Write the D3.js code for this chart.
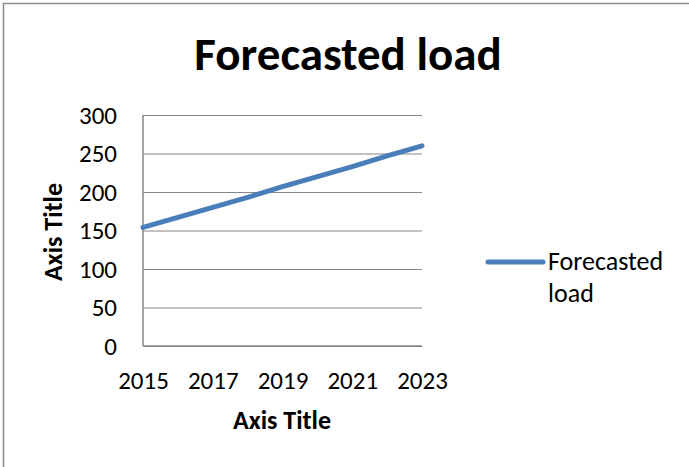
<!DOCTYPE html>
<html>
<head>
<meta charset="utf-8">
<script src="https://cdn.jsdelivr.net/npm/d3@7"></script>
<style>
  body { margin: 0; background: #fff; }
  text { font-family: Calibri, Carlito, "Open Sans", sans-serif; fill: #000; }
</style>
</head>
<body>
<div id="chart"></div>
<script>
// forecasted load
var years  = [2015, 2016, 2017, 2018, 2019, 2020, 2021, 2022, 2023];
var load   = [154, 167, 180, 193, 207, 220, 233, 247, 260];
var yTicks = [0, 50, 100, 150, 200, 250, 300];
var xTicks = [2015, 2017, 2019, 2021, 2023];
var seriesName = "Forecasted load";

var W = 689, H = 467;
var margin = {top: 115, left: 143, right: 267, bottom: 121},
    width  = W - margin.left - margin.right,
    height = H - margin.top - margin.bottom;

var data = years.map(function(y, i) { return {year: y, value: load[i]}; });

var svg = d3.select("#chart").append("svg")
    .attr("width", W)
    .attr("height", H);

// outer frame (only top and left edges show)
svg.append("path")
    .attr("d", "M3.5," + H + "V3.5H" + W)
    .attr("fill", "none")
    .attr("stroke", "#8c8c8c")
    .attr("stroke-width", 1.5);

svg.append("text")
    .attr("x", 348)
    .attr("y", 70)
    .attr("text-anchor", "middle")
    .style("font-size", "47px")
    .style("font-weight", "bold")
    .text("Forecasted load");

var x = d3.scaleLinear().domain([2015, 2023]).range([0, width]);
var y = d3.scaleLinear().domain([0, 300]).range([height, 0]);

var g = svg.append("g")
    .attr("transform", "translate(" + margin.left + "," + margin.top + ")");

var yAxis = g.append("g")
    .call(d3.axisLeft(y).tickValues(yTicks).tickSize(-width).tickPadding(26));
yAxis.select(".domain").remove();
yAxis.selectAll(".tick line").attr("stroke", "#868686").attr("stroke-width", 1.2);
yAxis.selectAll(".tick text").style("font-size", "25px");

var xAxis = g.append("g")
    .attr("transform", "translate(0," + height + ")")
    .call(d3.axisBottom(x).tickValues(xTicks).tickFormat(d3.format("d")).tickSize(0).tickPadding(25));
xAxis.select(".domain").remove();
xAxis.selectAll(".tick text").style("font-size", "25px");

// axis lines
g.append("line")
    .attr("x1", 0).attr("x2", 0).attr("y1", 0).attr("y2", height)
    .attr("stroke", "#868686").attr("stroke-width", 1.5);
g.append("line")
    .attr("x1", 0).attr("x2", width).attr("y1", height).attr("y2", height)
    .attr("stroke", "#868686").attr("stroke-width", 1.5);

var line = d3.line()
    .x(function(d) { return x(d.year); })
    .y(function(d) { return y(d.value); });

g.append("path")
    .datum(data)
    .attr("fill", "none")
    .attr("stroke", "#4a7ebb")
    .attr("stroke-width", 5)
    .attr("stroke-linecap", "round")
    .attr("d", line);

// axis titles
svg.append("text")
    .attr("x", 282)
    .attr("y", 429)
    .attr("text-anchor", "middle")
    .style("font-size", "26px")
    .style("font-weight", "bold")
    .text("Axis Title");

svg.append("text")
    .attr("transform", "translate(62,232) rotate(-90)")
    .attr("text-anchor", "middle")
    .style("font-size", "26px")
    .style("font-weight", "bold")
    .text("Axis Title");

// legend
var legend = svg.append("g").attr("transform", "translate(488,262)");
legend.append("line")
    .attr("x1", 0).attr("x2", 55)
    .attr("stroke", "#4a7ebb")
    .attr("stroke-width", 5)
    .attr("stroke-linecap", "round");
var lt = legend.append("text")
    .attr("x", 60)
    .attr("y", 8)
    .style("font-size", "26px");
lt.append("tspan").attr("x", 60).text("Forecasted");
lt.append("tspan").attr("x", 60).attr("dy", 32).text("load");
</script>
</body>
</html>
